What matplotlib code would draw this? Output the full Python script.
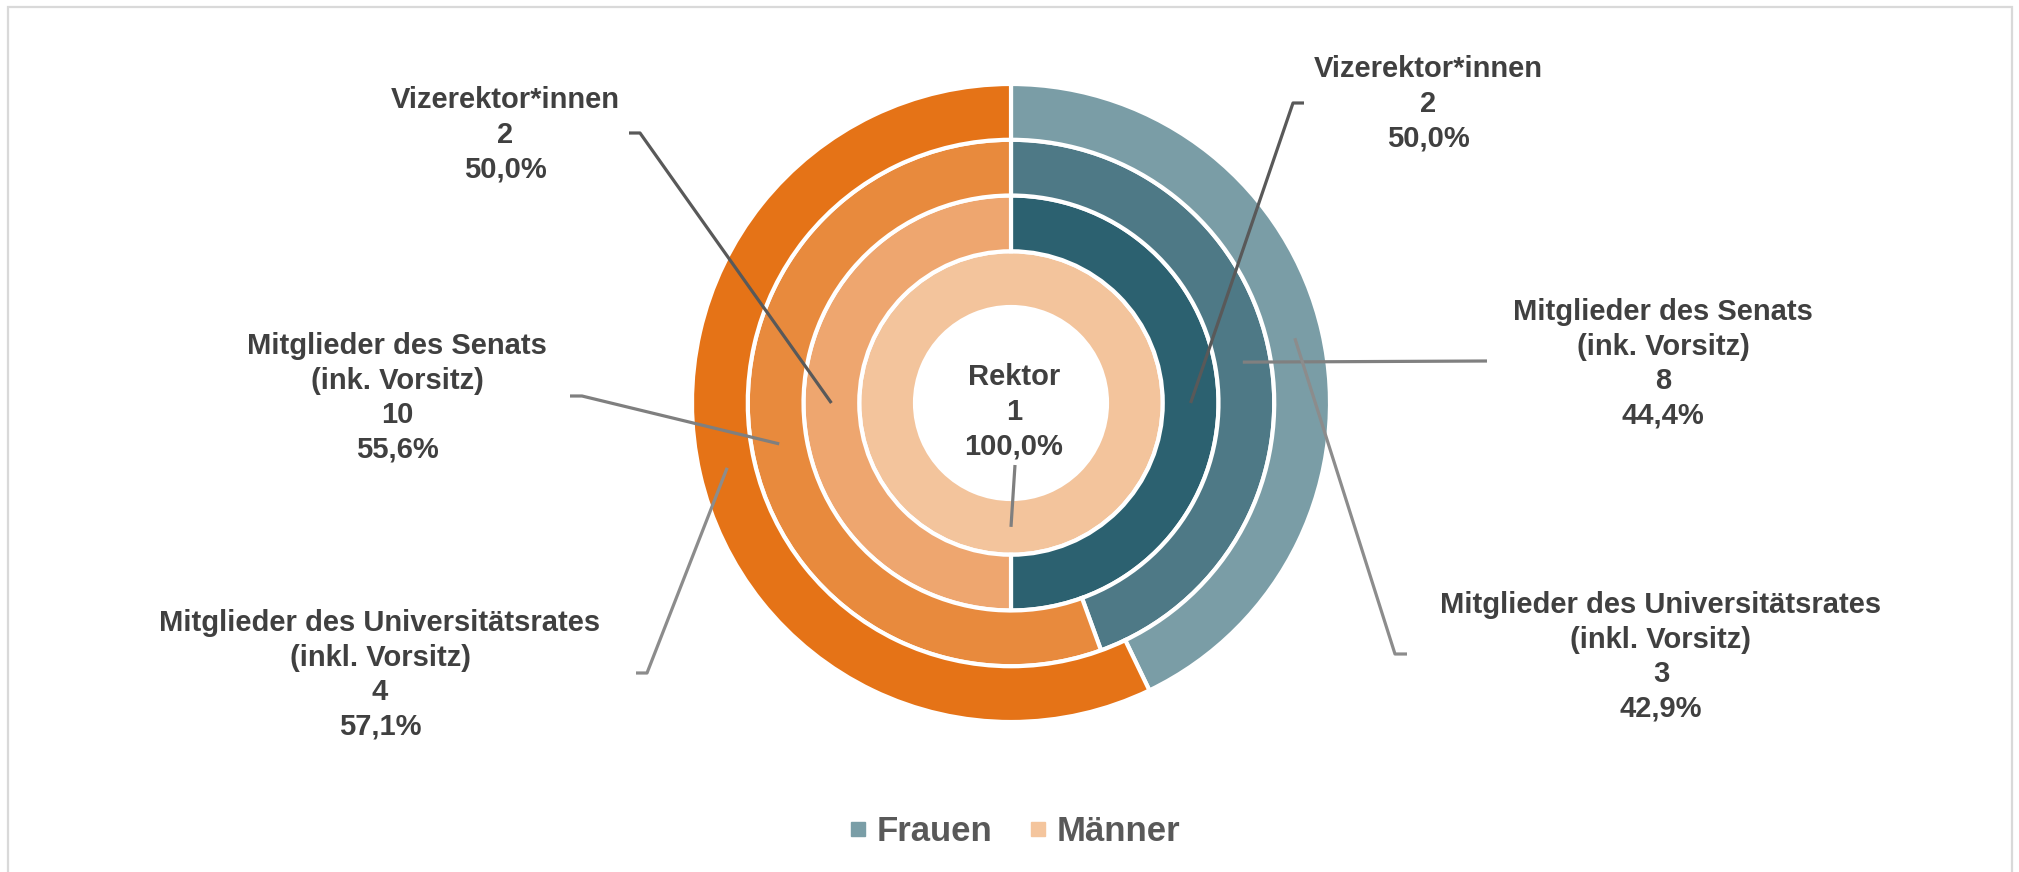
#!/usr/bin/env python3
# -*- coding: utf-8 -*-
import math
import matplotlib
matplotlib.use("Agg")
import matplotlib.pyplot as plt
from matplotlib.lines import Line2D
from matplotlib.patches import Rectangle

## Daten: Ringe von innen nach aussen ##
gremien = ["Rektor", "Vizerektor*innen", "Mitglieder des Senats\n(ink. Vorsitz)",
           "Mitglieder des Universitätsrates\n(inkl. Vorsitz)"]
frauen = [0, 2, 8, 3]
maenner = [1, 2, 10, 4]

farben_frauen = ["#1F4E5B", "#2C6170", "#4E7986", "#7A9DA6"]
farben_maenner = ["#F3C49C", "#EEA66F", "#E88A3D", "#E57317"]

## Bildgroesse in Pixel (dpi 100) ##
B, H = 2019, 872
fig = plt.figure(figsize=(B / 100, H / 100), dpi=100)
ax = fig.add_axes([0, 0, 1, 1])

mx, my = 1011, H - 403      # Mittelpunkt
r_aussen = 319
breite = 55.75

def py(y):
    # Pixel von oben -> Datenkoordinate
    return H - y

radien = [r_aussen - breite * (3 - i) for i in range(4)]
for i in range(4):
    ax.pie([frauen[i], maenner[i]], radius=radien[i], center=(mx, my),
           startangle=90, counterclock=False,
           colors=[farben_frauen[i], farben_maenner[i]],
           wedgeprops=dict(width=breite, edgecolor="white", linewidth=3))

ax.set_xlim(0, B)
ax.set_ylim(0, H)
ax.set_aspect("equal")
ax.axis("off")


def anker(ring, seite):
    # Mittelpunkt eines Segments (seite 0 = Frauen, 1 = Maenner)
    werte = [frauen[ring], maenner[ring]]
    gesamt = sum(werte)
    vorher = sum(werte[:seite])
    anteil = (vorher + werte[seite] / 2) / gesamt
    winkel = math.radians(90 - 360 * anteil)
    r = radien[ring] - breite / 2
    return mx + r * math.cos(winkel), my + r * math.sin(winkel)


def beschriftung(ring, seite):
    werte = [frauen[ring], maenner[ring]]
    n = werte[seite]
    proz = f"{n / sum(werte) * 100:.1f}".replace(".", ",") + "%"
    return f"{gremien[ring]}\n{n}\n{proz}"


## Position der Beschriftungen + Knick der Fuehrungslinie (Pixel von oben) ##
labels = [
    # ring, seite, text-x, text-y, linie-start, knick, farbe
    (0, 1, 1014, 412, (1015, 465), None, "#7F7F7F"),
    (1, 1, 505, 135, (629, 133), (640, 133), "#595959"),
    (1, 0, 1428, 104, (1304, 103), (1293, 103), "#595959"),
    (2, 1, 397, 398, (570, 396), (582, 396), "#7F7F7F"),
    (2, 0, 1663, 364, (1487, 361), None, "#808080"),
    (3, 1, 380, 675, (636, 673), (647, 673), "#8C8C8C"),
    (3, 0, 1661, 657, (1407, 654), (1395, 654), "#8C8C8C"),
]

for ring, seite, tx, ty, start, knick, farbe in labels:
    ax_, ay_ = anker(ring, seite)
    xs = [start[0]]
    ys = [py(start[1])]
    if knick is not None:
        xs.append(knick[0])
        ys.append(py(knick[1]))
    xs.append(ax_)
    ys.append(ay_)
    ax.plot(xs, ys, color=farbe, lw=2.3, solid_capstyle="butt", zorder=5)
    ax.text(tx, py(ty), beschriftung(ring, seite), ha="center", va="center",
            fontsize=21, fontweight="bold", color="#404040",
            family="Liberation Sans", linespacing=1.3, zorder=6)

## Rahmen ##
ax.add_patch(Rectangle((8, -10), 2004, H - 7 + 10, fill=False,
                       edgecolor="#D9D9D9", lw=1.6, zorder=0))

## Legende ##
griffe = [Line2D([], [], marker="s", ls="", markersize=10, color="#7A9EA7"),
          Line2D([], [], marker="s", ls="", markersize=10, color="#F4C59D")]
fig.legend(griffe, ["Frauen", "Männer"], loc="center", bbox_to_anchor=(0.503, 0.046),
           ncol=2, frameon=False, handlelength=0.4, handletextpad=0.35,
           columnspacing=1.1, prop={"family": "Liberation Sans", "weight": "bold", "size": 25},
           labelcolor="#595959")

fig.savefig("out.png", dpi=100)
